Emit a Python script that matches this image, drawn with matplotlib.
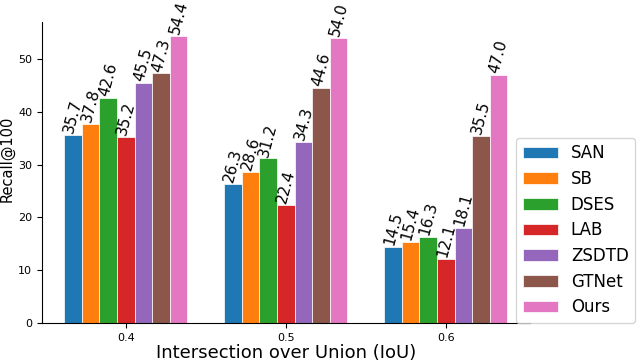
import numpy as np
import matplotlib
matplotlib.use("Agg")
import matplotlib.pyplot as plt

iou = ["0.4", "0.5", "0.6"]
methods = ["SAN", "SB", "DSES", "LAB", "ZSDTD", "GTNet", "Ours"]
san = [35.7, 26.3, 14.5]
sb = [37.8, 28.6, 15.4]
dses = [42.6, 31.2, 16.3]
lab = [35.2, 22.4, 12.1]
zsdtd = [45.5, 34.3, 18.1]
gtnet = [47.3, 44.6, 35.5]
ours = [54.4, 54.0, 47.0]
series = [san, sb, dses, lab, zsdtd, gtnet, ours]
colors = ["tab:blue", "tab:orange", "tab:green", "tab:red",
          "tab:purple", "tab:brown", "tab:pink"]

fig = plt.figure(figsize=(6.4, 3.63), dpi=100)
ax = fig.add_axes([0.0656, 0.110, 0.762, 0.829])

x = np.arange(len(iou))
w = 0.11
for i, (name, vals) in enumerate(zip(methods, series)):
    pos = x + (i - 3) * w
    bars = ax.bar(pos, vals, w, color=colors[i], edgecolor="white",
                  linewidth=0.5, label=name)
    for b, v in zip(bars, vals):
        ax.text(b.get_x() + b.get_width() / 2, v, f"{v:.1f}",
                rotation=75, ha="center", va="bottom", fontsize=11)

ax.set_xticks(x)
ax.set_xticklabels(iou)
ax.tick_params(labelsize=8)
ax.set_ylim(0, 57)
ax.set_yticks([0, 10, 20, 30, 40, 50])
ax.set_ylabel("Recall@100", fontsize=10.5)
ax.yaxis.set_label_coords(-0.056, 0.545)
ax.set_xlabel("Intersection over Union (IoU)", fontsize=13, labelpad=1)
ax.spines["top"].set_visible(False)
ax.spines["right"].set_visible(False)

fig.legend(loc="lower left", bbox_to_anchor=(0.806, 0.110), borderaxespad=0,
           fontsize=12, handlelength=2.1, borderpad=0.4, labelspacing=0.46)

fig.savefig("out.png", dpi=100)
